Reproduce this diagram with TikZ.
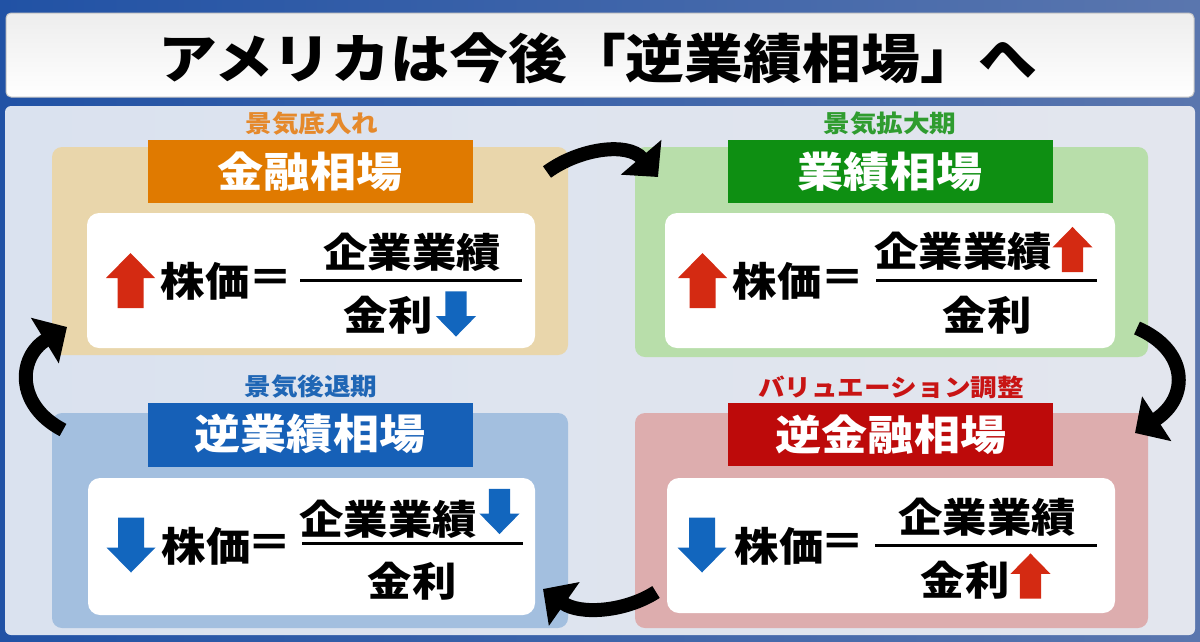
\documentclass[tikz,border=0pt]{standalone}
\usepackage{fontspec}
\setmainfont{Noto Sans CJK JP}[FakeStretch=1.11]
\usetikzlibrary{arrows.meta}
\definecolor{outerblue}{HTML}{2152A5}
\definecolor{outerblue2}{HTML}{5A76AE}
\definecolor{panelL}{HTML}{DAE2EF}
\definecolor{panelR}{HTML}{E3E6EE}
\definecolor{tlfill}{HTML}{E9D6AB}
\definecolor{trfill}{HTML}{B8DEAA}
\definecolor{blfill}{HTML}{A3BFDF}
\definecolor{brfill}{HTML}{DDADAE}
\definecolor{orangehd}{HTML}{E07A00}
\definecolor{greenhd}{HTML}{0E8F12}
\definecolor{bluehd}{HTML}{1660B7}
\definecolor{redhd}{HTML}{BD0A0A}
\definecolor{orangelb}{HTML}{E5892B}
\definecolor{greenlb}{HTML}{2F9C2F}
\definecolor{bluelb}{HTML}{1F66B5}
\definecolor{redlb}{HTML}{C81414}
\definecolor{uparr}{HTML}{D42A12}
\definecolor{dnarr}{HTML}{1266BE}
\tikzset{
  quadbox/.style={rounded corners=10pt},
  whitebox/.style={fill=white, rounded corners=12pt},
  hdtext/.style={text=white, font=\bfseries\fontsize{41.5}{44}\selectfont, inner sep=0pt},
  lbtext/.style={font=\bfseries\fontsize{24}{26}\selectfont, inner sep=0pt},
  eqtext/.style={font=\bfseries\fontsize{40}{42}\selectfont, inner sep=0pt},
  fracline/.style={line width=3pt},
  cyclearrow/.style={line width=14pt, -{Triangle[length=26pt,width=52pt]}},
  blockup/.pic={\fill[pic actions] (0,-27.5) -- (24.5,-2.5) -- (13,-2.5) -- (13,27.5) -- (-13,27.5) -- (-13,-2.5) -- (-24.5,-2.5) -- cycle;},
}
\begin{document}
\begin{tikzpicture}[x=1pt,y=-1pt]
\useasboundingbox (0,0) rectangle (1200,641);
% background
\shade[left color=outerblue, right color=outerblue2] (0,0) rectangle (1200,641);
\shade[left color=panelL, right color=panelR, rounded corners=6pt] (5,106) rectangle (1195,635);
% title
\shade[draw=gray!45, line width=1pt, rounded corners=5pt, top color=gray!14, bottom color=white] (6,13) rectangle (1194,97);
\node[font=\bfseries\fontsize{53}{56}\selectfont, inner sep=0pt] (title) at (598,58) {アメリカは今後「逆業績相場」へ};

% quadrant panels
\fill[quadbox, tlfill] (52,147) rectangle (568,355);
\fill[quadbox, trfill] (635,147) rectangle (1148,357);
\fill[quadbox, blfill] (52,413) rectangle (568,628);
\fill[quadbox, brfill] (635,413) rectangle (1148,628);
% headers
\fill[orangehd] (148,140) rectangle (473,203);
\fill[greenhd] (728,140) rectangle (1053,203);
\fill[bluehd] (148,403) rectangle (473,467);
\fill[redhd] (728,403) rectangle (1053,466);
% white boxes
\fill[whitebox] (87,213) rectangle (535,348);
\fill[whitebox] (665,213) rectangle (1115,348);
\fill[whitebox] (88,478) rectangle (535,615);
\fill[whitebox] (667,478) rectangle (1115,613);

% TL
\node[lbtext, text=orangelb] (tl-lab) at (312,124) {景気底入れ};
\node[hdtext] (tl-hd) at (310,172) {金融相場};
\pic[fill=uparr] (tl-big) at (130.5,280.5) {blockup};
\node[eqtext] (tl-kabu) at (205,281) {株価};
\node[eqtext] (tl-eq) at (271,281) {＝};
\draw[fracline] (300,280) -- (522,280);
\node[eqtext] (tl-num) at (412,252) {企業業績};
\node[eqtext] (tl-den) at (388,315) {金利};
\pic[fill=dnarr, yscale=-1, scale=0.82] (tl-sm) at (456,314) {blockup};

% TR
\node[lbtext, text=greenlb] (tr-lab) at (890,124) {景気拡大期};
\node[hdtext] (tr-hd) at (890,172) {業績相場};
\pic[fill=uparr] (tr-big) at (702.5,280.5) {blockup};
\node[eqtext] (tr-kabu) at (777,281) {株価};
\node[eqtext] (tr-eq) at (843,281) {＝};
\draw[fracline] (876,280) -- (1097,280);
\node[eqtext] (tr-num) at (963,251) {企業業績};
\node[eqtext] (tr-den) at (987,315) {金利};
\pic[fill=uparr, scale=0.82] (tr-sm) at (1072.5,249.5) {blockup};

% BL
\node[lbtext, text=bluelb] (bl-lab) at (311,387) {景気後退期};
\node[hdtext] (bl-hd) at (310,434) {逆業績相場};
\pic[fill=dnarr, yscale=-1] (bl-big) at (131,545) {blockup};
\node[eqtext] (bl-kabu) at (206,546) {株価};
\node[eqtext] (bl-eq) at (270,546) {＝};
\draw[fracline] (302,543) -- (523,543);
\node[eqtext] (bl-num) at (388,519) {企業業績};
\node[eqtext] (bl-den) at (412,581) {金利};
\pic[fill=dnarr, yscale=-1, scale=0.82] (bl-sm) at (499.5,511.5) {blockup};

% BR
\node[lbtext, text=redlb] (br-lab) at (891,387) {バリュエーション調整};
\node[hdtext] (br-hd) at (891,435) {逆金融相場};
\pic[fill=dnarr, yscale=-1] (br-big) at (702,545) {blockup};
\node[eqtext] (br-kabu) at (779,546) {株価};
\node[eqtext] (br-eq) at (843,545) {＝};
\draw[fracline] (875,545) -- (1097,545);
\node[eqtext] (br-num) at (987,517) {企業業績};
\node[eqtext] (br-den) at (965,580) {金利};
\pic[fill=uparr, scale=0.82] (br-sm) at (1030.5,576) {blockup};

% cycle arrows
\coordinate (a1s) at (547,172); \coordinate (a1e) at (658,177);
\coordinate (a2s) at (1137,328); \coordinate (a2e) at (1135,433);
\coordinate (a3s) at (656,592); \coordinate (a3e) at (543,589);
\coordinate (a4s) at (63,430); \coordinate (a4e) at (67,327);
\draw[cyclearrow] (a1s) .. controls (580,148) and (628,142) .. (a1e);
\draw[cyclearrow] (a2s) .. controls (1188,350) and (1190,397) .. (a2e);
\draw[cyclearrow] (a3s) .. controls (625,612) and (580,615) .. (a3e);
\draw[cyclearrow] (a4s) .. controls (15,405) and (18,357) .. (a4e);
\end{tikzpicture}
\end{document}
